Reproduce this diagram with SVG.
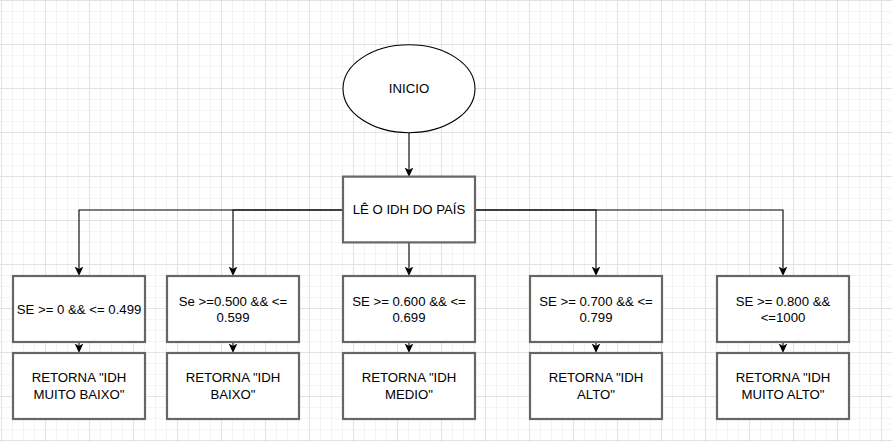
<svg xmlns="http://www.w3.org/2000/svg" width="892" height="442" viewBox="0 0 892 442">
  <style>
    .box { fill: #ffffff; stroke: #666666; stroke-width: 2.2; }
    .oval { fill: #ffffff; stroke: #000000; stroke-width: 1.1; }
    .lbl { font-family: "Liberation Sans", Arial, Helvetica, sans-serif; font-size: 13.2px; fill: #000000; text-anchor: middle; }
    .edge { fill: none; stroke: #000000; stroke-width: 1.1; marker-end: url(#arrow); }
  </style>
  <defs>
    <pattern id="grid" patternUnits="userSpaceOnUse" x="1" y="0" width="44" height="44">
      <path d="M11.5,0 V44 M22.5,0 V44 M33.5,0 V44 M0,11.5 H44 M0,22.5 H44 M0,33.5 H44" stroke="#f4f4f4" stroke-width="1" fill="none"/>
      <path d="M0.5,0 V44 M0,0.5 H44" stroke="#e3e3e3" stroke-width="1" fill="none"/>
    </pattern>
    <marker id="arrow" markerUnits="userSpaceOnUse" viewBox="0 0 9.5 8.6" refX="7.5" refY="4.3" markerWidth="9.5" markerHeight="8.6" orient="auto">
      <path d="M0,0 L9.5,4.3 L0,8.6 L2.4,4.3 Z" fill="#000000"/>
    </marker>
  </defs>
  <rect x="0" y="0" width="892" height="442" fill="#ffffff"/>
  <rect x="0" y="0" width="892" height="442" fill="url(#grid)"/>

  <g id="connectors">
    <path class="edge" d="M409,133 V175"/>
    <path class="edge" d="M343,210 H79 V274"/>
    <path class="edge" d="M343,210 H233 V274"/>
    <path class="edge" d="M409,243 V274"/>
    <path class="edge" d="M475,210 H596 V274"/>
    <path class="edge" d="M475,210 H783 V274"/>
    <path class="edge" d="M79,342 V351"/>
    <path class="edge" d="M233,342 V351"/>
    <path class="edge" d="M409,342 V351"/>
    <path class="edge" d="M596,342 V351"/>
    <path class="edge" d="M783,342 V351"/>
  </g>

  <g id="inicio">
    <ellipse class="oval" cx="409" cy="88.7" rx="66" ry="44"/>
    <text class="lbl" x="409" y="93.4">INICIO</text>
  </g>

  <g id="le-idh">
    <rect class="box" x="343" y="176.6" width="132" height="65.8"/>
    <text class="lbl" x="409" y="214.4">LÊ O IDH DO PAÍS</text>
  </g>

  <g id="se-muito-baixo">
    <rect class="box" x="13" y="276" width="132" height="66"/>
    <text class="lbl" x="79" y="313.6">SE &gt;= 0 &amp;&amp; &lt;= 0.499</text>
  </g>
  <g id="se-baixo">
    <rect class="box" x="167" y="276" width="132" height="66"/>
    <text class="lbl" x="233" y="305.5">Se &gt;=0.500 &amp;&amp; &lt;=</text>
    <text class="lbl" x="233" y="322">0.599</text>
  </g>
  <g id="se-medio">
    <rect class="box" x="343" y="276" width="132" height="66"/>
    <text class="lbl" x="409" y="305.5">SE &gt;= 0.600 &amp;&amp; &lt;=</text>
    <text class="lbl" x="409" y="322">0.699</text>
  </g>
  <g id="se-alto">
    <rect class="box" x="530" y="276" width="132" height="66"/>
    <text class="lbl" x="596" y="305.5">SE &gt;= 0.700 &amp;&amp; &lt;=</text>
    <text class="lbl" x="596" y="322">0.799</text>
  </g>
  <g id="se-muito-alto">
    <rect class="box" x="717" y="276" width="132" height="66"/>
    <text class="lbl" x="783" y="305.5">SE &gt;= 0.800 &amp;&amp;</text>
    <text class="lbl" x="783" y="322">&lt;=1000</text>
  </g>

  <g id="ret-muito-baixo">
    <rect class="box" x="13" y="353" width="132" height="66"/>
    <text class="lbl" x="79" y="382.4">RETORNA "IDH</text>
    <text class="lbl" x="79" y="399">MUITO BAIXO"</text>
  </g>
  <g id="ret-baixo">
    <rect class="box" x="167" y="353" width="132" height="66"/>
    <text class="lbl" x="233" y="382.4">RETORNA "IDH</text>
    <text class="lbl" x="233" y="399">BAIXO"</text>
  </g>
  <g id="ret-medio">
    <rect class="box" x="343" y="353" width="132" height="66"/>
    <text class="lbl" x="409" y="382.4">RETORNA "IDH</text>
    <text class="lbl" x="409" y="399">MEDIO"</text>
  </g>
  <g id="ret-alto">
    <rect class="box" x="530" y="353" width="132" height="66"/>
    <text class="lbl" x="596" y="382.4">RETORNA "IDH</text>
    <text class="lbl" x="596" y="399">ALTO"</text>
  </g>
  <g id="ret-muito-alto">
    <rect class="box" x="717" y="353" width="132" height="66"/>
    <text class="lbl" x="783" y="382.4">RETORNA "IDH</text>
    <text class="lbl" x="783" y="399">MUITO ALTO"</text>
  </g>
</svg>
